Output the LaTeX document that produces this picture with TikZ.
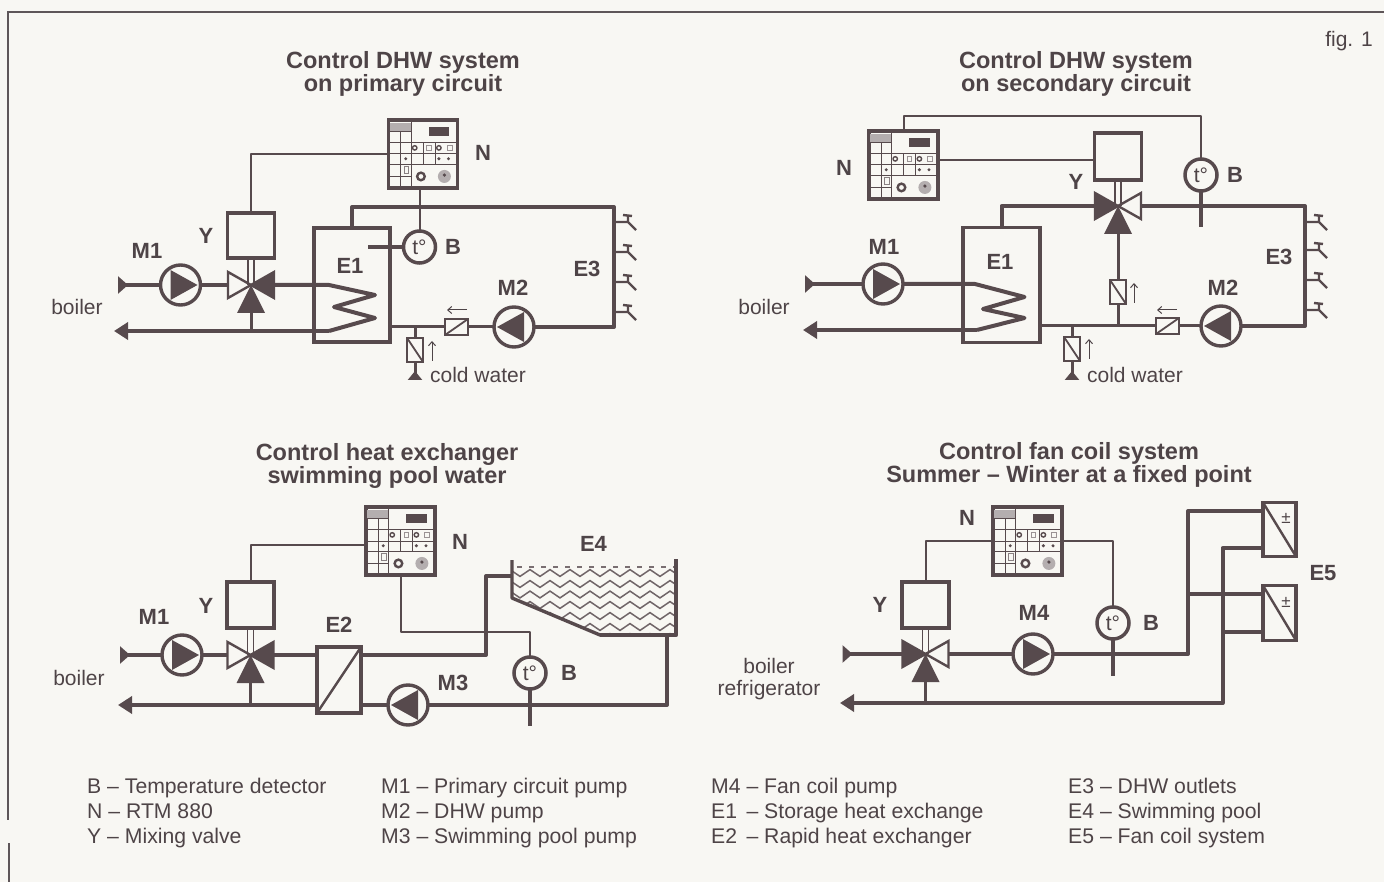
\documentclass[tikz,border=0pt]{standalone}
\usepackage{fontspec}
\setmainfont{Liberation Sans}
\usetikzlibrary{arrows.meta,decorations.pathmorphing,calc}
\definecolor{ink}{HTML}{574A4D}
\definecolor{txt}{HTML}{4E4447}
\definecolor{paper}{HTML}{F8F7F3}
\definecolor{rule}{HTML}{5E5659}
\tikzset{
  pipe/.style={draw=ink,line width=4pt,line join=round},
  midpipe/.style={draw=ink,line width=3pt,line join=round},
  wire/.style={draw=ink,line width=2pt,line join=round},
  boxn/.style={draw=ink,line width=3.6pt,rectangle,inner sep=0pt,outer sep=0pt},
  pump/.style={draw=ink,line width=3.4pt,circle,minimum size=40pt,inner sep=0pt,outer sep=0pt},
  sensor/.style={draw=ink,line width=3.5pt,circle,minimum size=32pt,inner sep=0pt,outer sep=0pt,text=txt,font=\fontsize{21}{21}\selectfont},
  chk/.style={draw=ink,line width=2.4pt,rectangle,inner sep=0pt,outer sep=0pt},
  ttl/.style={text=txt,font=\fontsize{23.5}{23.5}\selectfont\bfseries,inner sep=0pt,align=center},
  tag/.style={text=txt,font=\fontsize{22}{22}\selectfont\bfseries,inner sep=0pt},
  note/.style={text=txt,font=\fontsize{21}{21}\selectfont,inner sep=0pt,anchor=base},
  leg/.style={text=txt,font=\fontsize{21.2}{21.2}\selectfont,inner sep=0pt,anchor=base west},
  intip/.style={{Triangle[reversed,length=10pt,width=17pt]}-},
  outtip/.style={-{Triangle[length=14pt,width=17pt]}},
  foottip/.style={-{Triangle[reversed,length=9pt,width=14pt]}},
  small/.style={draw=txt,line width=1pt,-{Straight Barb[length=4pt,width=7pt]}},
}
% pump: name, x, y, direction (1 right, -1 left)
\newcommand{\mkPump}[4]{%
  \node[pump] (#1) at (#2,#3) {};
  \fill[ink,shift={(#1)},xscale=#4] (-10,-15)--(17,0)--(-10,15)--cycle;}
% valve: name, x, y, left style, right style
\newcommand{\mkValve}[5]{%
  \coordinate (#1) at (#2,#3);
  \coordinate (#1-l) at ($(#1)+(-23,0)$);
  \coordinate (#1-r) at ($(#1)+(23,0)$);
  \coordinate (#1-b) at ($(#1)+(0,28)$);
  \path[line width=2.4pt,draw=ink,line join=miter,#4] (#1)--($(#1)+(-23,-13)$)--($(#1)+(-23,13)$)--cycle;
  \path[line width=2.4pt,draw=ink,line join=miter,#5] (#1)--($(#1)+(23,-13)$)--($(#1)+(23,13)$)--cycle;
  \fill[ink] (#1)--($(#1)+(-14,28)$)--($(#1)+(14,28)$)--cycle;}
% controller: name, x, y of the top left corner
\newcommand{\mkCtrl}[3]{%
  \node[boxn,anchor=north west,minimum width=69pt,minimum height=68pt] (#1) at (#2,#3) {};
  \begin{scope}[shift={(#2,#3)},x=0.69pt,y=-0.68pt]
    \fill[ink!45] (2,4) rectangle (33,17);
    \fill[ink] (58,10) rectangle (88,24);
    \draw[ink,line width=1pt] (18,17)--(18,100) (33,0)--(33,100) (50,33)--(50,65) (68,33)--(68,65)
      (2,17)--(33,17) (0,33)--(100,33) (0,50)--(100,50) (0,65)--(100,65) (0,83)--(33,83);
    \draw[ink,line width=1.4pt] (38,41) circle (2.2pt) (73,41) circle (2.2pt);
    \draw[ink!60,line width=0.8pt] (55,37) rectangle (62,45) (85,37) rectangle (92,45);
    \fill[ink] (25,57) circle (1.7pt) (73,57) circle (1.7pt) (87,57) circle (1.7pt);
    \draw[ink!70,line width=0.9pt] (23,68) rectangle (29,79);
    \draw[ink,line width=2.4pt] (47,83) circle (3.8pt);
    \fill[ink!45] (81,83) circle (6.5pt);
    \fill[ink] (81,81) circle (1.8pt);
  \end{scope}}
% three way valve stem between actuator and valve
\newcommand{\mkStem}[2]{%
  \draw[ink,line width=1.5pt] ([xshift=-3pt]#1.south) -- ([xshift=-3pt]#2) ([xshift=3pt]#1.south) -- ([xshift=3pt]#2);}
% tap: coordinate name, x, y
\newcommand{\mkTap}[3]{%
  \coordinate (#1) at (#2,#3);
  \draw[ink,line width=2.4pt] (#1)--++(14,0)--++(8,8) ($(#1)+(14,0)$)--++(0,-6) ($(#1)+(9,-7)$)--++(9,1);}
\begin{document}
\begin{tikzpicture}[x=1pt,y=-1pt]
\useasboundingbox (0,0) rectangle (1384,882);
\fill[paper] (0,0) rectangle (1384,882);
\coordinate (fa) at (1384,12);
\coordinate (fb) at (8,12);
\coordinate (fc) at (8,820);
\coordinate (fd) at (8.5,843);
\coordinate (fe) at (8.5,882);
\draw[rule,line width=2pt] (fa)--(fb)--(fc) (fd)--(fe);

% ---------- titles ----------
\node[ttl] (t1) at (403,74) {Control DHW system\\on primary circuit};
\node[ttl] (t2) at (1076,74) {Control DHW system\\on secondary circuit};
\node[ttl] (t3) at (387,466) {Control heat exchanger\\swimming pool water};
\node[ttl] (t4) at (1069,465) {Control fan coil system\\Summer -- Winter at a fixed point};
\node[note] (fig) at (1349,47) {fig. 1};

% ---------- scheme A: primary circuit ----------
\mkCtrl{NA}{388.5}{120}
\node[boxn,minimum width=47pt,minimum height=45pt] (YA) at (251,235.5) {};
\mkValve{VA}{251}{285}{fill=paper}{fill=ink}
\mkStem{YA}{VA}
\mkPump{M1A}{180.5}{285}{1}
\mkPump{M2A}{514}{327}{-1}
\node[boxn,minimum width=76pt,minimum height=114pt] (E1A) at (352,285) {};
\node[sensor] (BA) at (419.5,247) {t°};
\node[chk,minimum width=23pt,minimum height=16pt] (CHA) at (456.5,327) {};
\draw[ink,line width=1.8pt] (CHA.south west)--(CHA.north east);
\node[chk,minimum width=16pt,minimum height=24pt] (CVA) at (415,350) {};
\draw[ink,line width=1.8pt] (CVA.north west)--(CVA.south east);
\coordinate (inA) at (118,285);
\coordinate (outA) at (114,331);
\coordinate (c1A) at (329,285);
\coordinate (c2A) at (375,295);
\coordinate (c3A) at (334,307);
\coordinate (c4A) at (375,318);
\coordinate (c5A) at (329,331);
\coordinate (tcA) at (614,207);
\coordinate (brA) at (614,327);
\coordinate (jA) at (415,327);
\coordinate (fA) at (415,380);
\coordinate (barA) at (368,247);
\draw[pipe,intip] (inA)--(M1A);
\draw[pipe] (M1A)--(VA-l);
\draw[pipe] (VA-r)--(c1A)--(c2A)--(c3A)--(c4A)--(c5A);
\draw[pipe,outtip] (c5A)--(outA);
\draw[midpipe] (VA-b)--(VA-b|-outA);
\draw[pipe] (E1A.north)|-(tcA)--(brA)--(M2A);
\draw[midpipe] (M2A)--(CHA);
\draw[midpipe] (CHA)--(CHA-|E1A.east);
\draw[midpipe] (jA)--(CVA);
\draw[midpipe,foottip] (CVA)--(fA);
\draw[pipe,line width=4.8pt] (BA)--(barA);
\draw[wire] (NA.west)-|(YA.north);
\draw[wire] (NA.south-|BA)--(BA);
\mkTap{T1A}{614}{222}
\mkTap{T2A}{614}{252}
\mkTap{T3A}{614}{282}
\mkTap{T4A}{614}{312}
\draw[small] (432,361)--(432,341);
\draw[small] (467,310)--(447,310);
\node[tag] (lNA) at (483,153) {N};
\node[tag] (lYA) at (206,236) {Y};
\node[tag] (lM1A) at (147,251) {M1};
\node[tag] (lE1A) at (350,266) {E1};
\node[tag] (lBA) at (453,247) {B};
\node[tag] (lE3A) at (587,269) {E3};
\node[tag] (lM2A) at (513,288) {M2};
\node[note] (lcA) at (478,383) {cold water};
\node[note] (lboA) at (77,315) {boiler};

% ---------- scheme B: secondary circuit ----------
\mkCtrl{NB}{869}{131}
\node[boxn,minimum width=47pt,minimum height=47pt] (YB) at (1118,156.5) {};
\mkValve{VB}{1118}{206}{fill=ink}{fill=paper}
\mkStem{YB}{VB}
\mkPump{M1B}{883}{284}{1}
\mkPump{M2B}{1221}{326}{-1}
\node[boxn,minimum width=77pt,minimum height=115pt] (E1B) at (1001.5,285) {};
\node[sensor] (BB) at (1201,175) {t°};
\node[chk,minimum width=23pt,minimum height=16pt] (CHB) at (1167.5,326) {};
\draw[ink,line width=1.8pt] (CHB.south west)--(CHB.north east);
\node[chk,minimum width=16pt,minimum height=24pt] (CVB) at (1118,292) {};
\draw[ink,line width=1.8pt] (CVB.north west)--(CVB.south east);
\node[chk,minimum width=16pt,minimum height=24pt] (CWB) at (1072,349) {};
\draw[ink,line width=1.8pt] (CWB.north west)--(CWB.south east);
\coordinate (inB) at (805,284);
\coordinate (outB) at (803,330);
\coordinate (c1B) at (975,284);
\coordinate (c2B) at (1024.5,297);
\coordinate (c3B) at (983,309);
\coordinate (c4B) at (1024.5,318);
\coordinate (c5B) at (977,330);
\coordinate (tcB) at (1305,206);
\coordinate (brB) at (1305,326);
\coordinate (jB) at (1072,326);
\coordinate (fB) at (1072,380);
\coordinate (barB) at (1201,227);
\coordinate (upB) at (1201,116);
\coordinate (jvB) at (1118,326);
\draw[pipe,intip] (inB)--(M1B);
\draw[pipe] (M1B)--(c1B)--(c2B)--(c3B)--(c4B)--(c5B);
\draw[pipe,outtip] (c5B)--(outB);
\draw[pipe] (E1B.north)|-(VB-l);
\draw[pipe] (VB-r)--(tcB)--(brB)--(M2B);
\draw[midpipe] (M2B)--(CHB);
\draw[midpipe] (CHB)--(CHB-|E1B.east);
\draw[midpipe] (VB-b)--(CVB);
\draw[midpipe] (CVB)--(jvB);
\draw[midpipe] (jB)--(CWB);
\draw[midpipe,foottip] (CWB)--(fB);
\draw[pipe,line width=4.8pt] (BB)--(barB);
\draw[wire] (NB.north)|-(upB)--(BB);
\draw[wire] ([yshift=4.5pt]NB.east)--([yshift=4.5pt]NB.east-|YB.west);
\mkTap{T1B}{1305}{222}
\mkTap{T2B}{1305}{250}
\mkTap{T3B}{1305}{280}
\mkTap{T4B}{1305}{310}
\draw[small] (1134,303)--(1134,283);
\draw[small] (1089,359)--(1089,339);
\draw[small] (1177,310)--(1157,310);
\node[tag] (lNB) at (844,168) {N};
\node[tag] (lYB) at (1076,182) {Y};
\node[tag] (lBB) at (1235,175) {B};
\node[tag] (lM1B) at (884,247) {M1};
\node[tag] (lE1B) at (1000,262) {E1};
\node[tag] (lE3B) at (1279,257) {E3};
\node[tag] (lM2B) at (1223,288) {M2};
\node[note] (lcB) at (1135,383) {cold water};
\node[note] (lboB) at (764,315) {boiler};

% ---------- scheme C: swimming pool ----------
\mkCtrl{NC}{366}{507}
\node[boxn,minimum width=47pt,minimum height=46pt] (YC) at (250.5,605) {};
\mkValve{VC}{250.5}{655}{fill=paper}{fill=ink}
\mkStem{YC}{VC}
\mkPump{M1C}{182}{655}{1}
\mkPump{M3C}{408}{705}{-1}
\node[boxn,minimum width=44pt,minimum height=66pt] (E2C) at (339,680) {};
\draw[ink,line width=2.4pt] (E2C.south west)--(E2C.north east);
\node[sensor] (BC) at (530,673) {t°};
\coordinate (inC) at (120,655);
\coordinate (outC) at (118,705);
\coordinate (u1C) at (486,655);
\coordinate (u2C) at (486,576);
\coordinate (e4tl) at (512,560);
\coordinate (e4l) at (512,598);
\coordinate (e4m) at (600,635);
\coordinate (e4br) at (676,635);
\coordinate (e4tr) at (676,559);
\coordinate (retC) at (667,705);
\coordinate (retT) at (667,635);
\coordinate (barC) at (530,726);
\coordinate (wc1) at (401,632);
\coordinate (wc2) at (530,632);
\draw[pipe,intip] (inC)--(M1C);
\draw[pipe] (M1C)--(VC-l);
\draw[pipe] (VC-r)--(VC-r-|E2C.west);
\draw[midpipe,line width=3.2pt] (VC-b)--(VC-b|-outC);
\draw[pipe,outtip] (E2C.west|-outC)--(outC);
\draw[pipe] (E2C.east|-u1C)--(u1C)--(u2C)--(u2C-|e4tl);
\draw[pipe] (E2C.east|-M3C)--(M3C);
\draw[pipe] (M3C)--(retC)--(retT);
\draw[pipe,line width=4.8pt] (BC)--(barC);
\draw[wire] (NC.south-|wc1)--(wc1)--(wc2)--(BC);
\draw[wire] ([yshift=-3.5pt]NC.west)-|(YC.north);
\begin{scope}
  \clip (512,568) -- (512,598) -- (600,635) -- (676,635) -- (676,568) -- cycle;
  \foreach \yy in {573,584,594.5,605,616,627,637}
    \draw[ink!85,line width=1.5pt,decorate,decoration={zigzag,segment length=20pt,amplitude=3.4pt}] (505,\yy)--(685,\yy);
\end{scope}
\draw[ink!80,line width=1.4pt,dash pattern=on 5pt off 7pt] (517,567)--(674,567);
\draw[ink,line width=3.4pt,line join=round] (e4tl)--(e4l)--(e4m)--(e4br);
\draw[ink,line width=4.6pt,line join=round] (e4m)--(e4br)--(e4tr);
\node[tag] (lNC) at (460,542) {N};
\node[tag] (lE4) at (593.5,544) {E4};
\node[tag] (lYC) at (206,606) {Y};
\node[tag] (lM1C) at (154,617) {M1};
\node[tag] (lE2) at (339,625) {E2};
\node[tag] (lM3) at (453,683) {M3};
\node[tag] (lBC) at (569,673) {B};
\node[note] (lboC) at (79,685) {boiler};

% ---------- scheme D: fan coil ----------
\mkCtrl{ND}{993}{507}
\node[boxn,minimum width=47pt,minimum height=46pt] (YD) at (925.5,605) {};
\mkValve{VD}{925.5}{654}{fill=ink}{fill=paper}
\mkStem{YD}{VD}
\mkPump{M4D}{1033}{654}{1}
\node[sensor] (BD) at (1113,623) {t°};
\node[boxn,minimum width=33pt,minimum height=54pt] (E5a) at (1279.5,529.5) {};
\node[boxn,minimum width=33pt,minimum height=55pt] (E5b) at (1279.5,613) {};
\draw[ink,line width=2.4pt] (E5a.north west)--(E5a.south east);
\draw[ink,line width=2.4pt] (E5b.north west)--(E5b.south east);
\node[text=txt,inner sep=0pt,font=\fontsize{17}{17}\selectfont] (pmA) at (1286,518) {±};
\node[text=txt,inner sep=0pt,font=\fontsize{17}{17}\selectfont] (pmB) at (1286,602) {±};
\coordinate (inD) at (842.5,654);
\coordinate (outD) at (840,703);
\coordinate (sup) at (1188,654);
\coordinate (supT) at (1188,511);
\coordinate (supM) at (1188,594);
\coordinate (retD) at (1222.5,703);
\coordinate (retT2) at (1222.5,548);
\coordinate (retM) at (1222.5,632);
\coordinate (barD) at (1113,676);
\draw[pipe,intip] (inD)--(VD-l);
\draw[pipe] (VD-r)--(M4D);
\draw[pipe] (M4D)--(sup)--(supT)--(supT-|E5a.west);
\draw[pipe] (supM)--(supM-|E5b.west);
\draw[pipe,outtip] (retT2-|E5a.west)--(retT2)--(retD)--(outD);
\draw[pipe] (retM)--(retM-|E5b.west);
\draw[midpipe,line width=3.2pt] (VD-b)--(VD-b|-outD);
\draw[pipe,line width=4.8pt] (BD)--(barD);
\draw[wire] (ND.west)-|(YD.north);
\draw[wire] (ND.east)-|(BD.north);
\node[tag] (lND) at (967,518) {N};
\node[tag] (lYD) at (880,605) {Y};
\node[tag] (lM4) at (1034,613) {M4};
\node[tag] (lBD) at (1151,623) {B};
\node[tag] (lE5) at (1323,573) {E5};
\node[note] (lbd1) at (769,673) {boiler};
\node[note] (lbd2) at (769,695) {refrigerator};

% ---------- legend ----------
\node[leg] (k1) at (87,793) {B -- Temperature detector};
\node[leg] (k2) at (87,818) {N -- RTM 880};
\node[leg] (k3) at (87,843) {Y -- Mixing valve};
\node[leg] (k4) at (381,793) {M1 -- Primary circuit pump};
\node[leg] (k5) at (381,818) {M2 -- DHW pump};
\node[leg] (k6) at (381,843) {M3 -- Swimming pool pump};
\node[leg] (k7) at (711,793) {M4 -- Fan coil pump};
\node[leg] (k8) at (711,818) {E1 \,-- Storage heat exchange};
\node[leg] (k9) at (711,843) {E2 \,-- Rapid heat exchanger};
\node[leg] (k10) at (1068,793) {E3 -- DHW outlets};
\node[leg] (k11) at (1068,818) {E4 -- Swimming pool};
\node[leg] (k12) at (1068,843) {E5 -- Fan coil system};
\end{tikzpicture}
\end{document}
